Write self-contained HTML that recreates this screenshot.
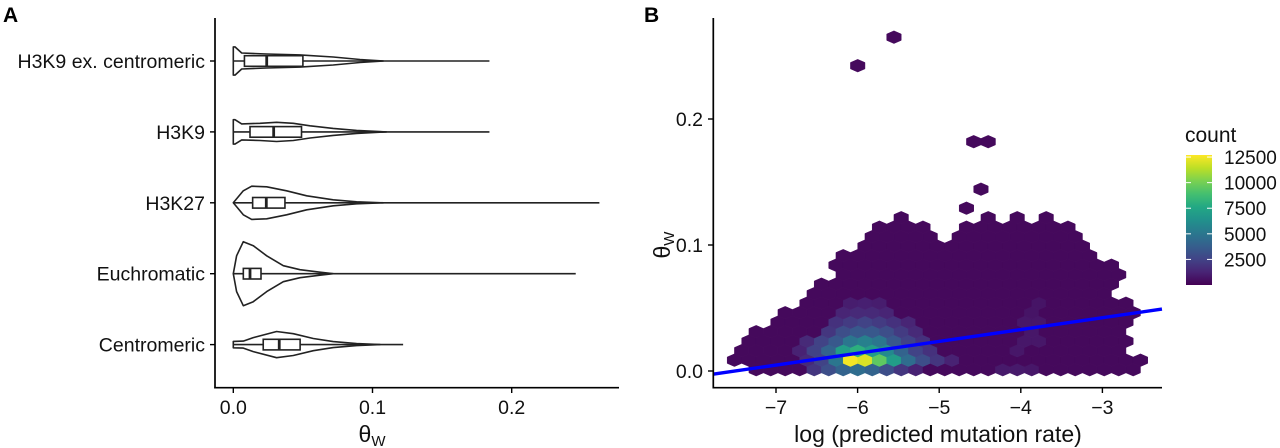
<!DOCTYPE html>
<html><head><meta charset="utf-8"><style>
html,body{margin:0;padding:0;background:#fff;}
svg{display:block;font-family:"Liberation Sans",Arial,sans-serif;}
</style></head><body>
<svg id="fig" width="1280" height="448" viewBox="0 0 1280 448" xmlns="http://www.w3.org/2000/svg">
<defs>
<linearGradient id="vir" x1="0" y1="1" x2="0" y2="0">
<stop offset="0" stop-color="#440154"/><stop offset="0.1" stop-color="#482475"/><stop offset="0.2" stop-color="#414487"/><stop offset="0.3" stop-color="#355f8d"/><stop offset="0.4" stop-color="#2a788e"/><stop offset="0.5" stop-color="#21918c"/><stop offset="0.6" stop-color="#22a884"/><stop offset="0.7" stop-color="#44bf70"/><stop offset="0.8" stop-color="#7ad151"/><stop offset="0.9" stop-color="#bddf26"/><stop offset="1" stop-color="#fde725"/>
</linearGradient>
</defs>
<g id="panelA"></g>
<g id="panelB"></g>
</svg>
<script>
// ---------- Panel A data ----------
const categories = ["H3K9 ex. centromeric","H3K9","H3K27","Euchromatic","Centromeric"];
const violinTheta = [
 [0,0.0012,0.006,0.024,0.0479,0.0718,0.091,0.1078],
 [0,0.0012,0.006,0.0192,0.0311,0.0431,0.0551,0.0718,0.0886,0.11],
 [0,0.0072,0.0132,0.024,0.0383,0.0527,0.0718,0.0886,0.1078],
 [0,0.0024,0.0072,0.0144,0.024,0.0359,0.0479,0.0623,0.0718],
 [0,0.0072,0.0144,0.0311,0.0431,0.0575,0.0718,0.0886,0.1054]
];
const violinDensity = [
 [0.44,0.44,0.25,0.22,0.19,0.125,0.047,0],
 [0.38,0.38,0.25,0.27,0.30,0.27,0.19,0.11,0.047,0],
 [0,0.375,0.52,0.50,0.375,0.22,0.094,0.03,0],
 [0,0.56,1.0,0.875,0.56,0.25,0.125,0.047,0],
 [0.10,0.11,0.22,0.41,0.34,0.19,0.094,0.03,0]
];
const boxQ1 = [0.008,0.012,0.0139,0.0072,0.0215];
const boxMedian = [0.024,0.029,0.0237,0.012,0.033];
const boxQ3 = [0.050,0.049,0.0371,0.0199,0.048];
const maxTheta = [0.184,0.184,0.263,0.246,0.122];
const aTicks = [0.0,0.1,0.2];
const aTickLabels = ["0.0","0.1","0.2"];

// ---------- Panel B data ----------
const hexXOrigin = -7.4203, hexXHalfStep = 0.08885; // bin grid (data units)
const hexYOrigin = 0.00103, hexYStep = 0.00754;
// [row, firstHalfColumn, lastHalfColumn]
const hexRows = [
 [0,2,54],[1,-1,55],[2,0,52],[3,1,53],[4,2,52],[5,5,53],[6,6,54],[7,9,53],[8,10,50],[9,11,51],
 [10,14,52],[11,13,51],[12,14,48],[13,17,47],[14,18,26],[14,30,46],[15,19,25],[15,31,45],
 [16,22,22],[16,34,34],[16,38,38],[16,42,42],[17,31,31],[19,33,33],[24,32,32],[24,34,34],[32,16,16],[35,21,21]
];
const defaultCount = 300;
// [row, halfColumn, count]
const hexCounts = [
 [0,10,2000],[0,12,3000],[0,14,4000],[0,16,4500],[0,18,4000],[0,20,3000],[0,22,2000],[0,24,1200],[0,36,900],[0,38,900],[0,40,800],
 [1,9,1500],[1,11,2500],[1,13,5000],[1,15,12500],[1,17,12000],[1,19,9500],[1,21,7000],[1,23,4500],[1,25,3000],[1,27,2000],[1,29,1200],
 [2,8,1200],[2,10,2500],[2,12,4000],[2,14,7000],[2,16,8000],[2,18,7000],[2,20,6000],[2,22,4000],[2,24,2500],[2,26,1800],[2,38,800],
 [3,9,1500],[3,11,2500],[3,13,3500],[3,15,5000],[3,17,5500],[3,19,5000],[3,21,3500],[3,23,2500],[3,25,1800],[3,39,800],[3,41,800],
 [4,12,2000],[4,14,3000],[4,16,3500],[4,18,3500],[4,20,3000],[4,22,2200],[4,24,1500],[4,40,800],
 [5,13,1800],[5,15,2200],[5,17,2500],[5,19,2200],[5,21,1800],[5,23,1300],[5,39,800],[5,41,800],
 [6,14,1300],[6,16,1500],[6,18,1500],[6,20,1300],[6,40,700],
 [7,15,1000],[7,17,1100],[7,19,1000],[7,41,700]
];
const countMax = 12700;
const legendTicks = [2500,5000,7500,10000,12500];
const bXTicks = [-7,-6,-5,-4,-3];
const bXTickLabels = ["\u22127","\u22126","\u22125","\u22124","\u22123"];
const bYTicks = [0,0.1,0.2];
const bYTickLabels = ["0.0","0.1","0.2"];
const fitSlope = 0.0094, fitIntercept = 0.0705;
const fitRange = [-7.772,-2.27];

const NS="http://www.w3.org/2000/svg";
function mk(tag, attrs, parent){const e=document.createElementNS(NS,tag);for(const k in attrs)e.setAttribute(k,attrs[k]);parent.appendChild(e);return e;}
const LC='#222', LW=1.6, TFS=19.5;

// ---------- Panel A ----------
const A=document.getElementById('panelA');
const xA=v=>233.3+v*1392;
const yA=i=>61+i*70.9;
const maxHalf=32;
let t=mk('text',{x:3,y:22,'font-size':21,'font-weight':'bold',fill:'#000'},A);t.textContent='A';


categories.forEach((c,i)=>{
  const g=mk('g',{},A);
  
  
  const cy=yA(i);
  let top=[],bot=[];
  violinTheta[i].forEach((th,k)=>{const h=violinDensity[i][k]*maxHalf;top.push([xA(th),cy-h]);bot.unshift([xA(th),cy+h]);});
  const pts=top.concat(bot).map(p=>p[0].toFixed(1)+','+p[1].toFixed(1)).join(' ');
  mk('polygon',{points:pts,fill:'#fff',stroke:LC,'stroke-width':LW,'stroke-linejoin':'round'},g);
  mk('line',{x1:xA(0),x2:xA(maxTheta[i]),y1:cy,y2:cy,stroke:LC,'stroke-width':LW},g);
  const b=mk('rect',{x:xA(boxQ1[i]),y:cy-5.3,width:xA(boxQ3[i])-xA(boxQ1[i]),height:10.6,fill:'#fff',stroke:LC,'stroke-width':LW},g);
  
  
  mk('line',{x1:xA(boxMedian[i]),x2:xA(boxMedian[i]),y1:cy-5.3,y2:cy+5.3,stroke:LC,'stroke-width':2.8},g);
  mk('line',{x1:210,x2:215,y1:cy,y2:cy,stroke:'#000','stroke-width':1.4},A);
  const l=mk('text',{x:205,y:cy+7,'font-size':TFS,'text-anchor':'end',fill:'#111'},A);l.textContent=c;
  
  
});
let ax=mk('line',{x1:215,x2:215,y1:18,y2:388.5,stroke:'#000','stroke-width':1.7},A);


ax=mk('line',{x1:214.3,x2:619,y1:387.7,y2:387.7,stroke:'#000','stroke-width':1.7},A);


aTicks.forEach((v,k)=>{
  mk('line',{x1:xA(v),x2:xA(v),y1:388,y2:393,stroke:'#000','stroke-width':1.4},A);
  const l=mk('text',{x:xA(v),y:414,'font-size':TFS,'text-anchor':'middle',fill:'#111'},A);l.textContent=aTickLabels[k];
  
  
});
t=mk('text',{x:372,y:442,'font-size':23,'text-anchor':'middle',fill:'#111'},A);
t.innerHTML='θ<tspan font-size="15" dy="4">W</tspan>';



// ---------- Panel B ----------
const B=document.getElementById('panelB');
const xB=v=>776+(v+7)*81.6;
const yB=v=>371-v*1260;
const stops=['#440154','#482475','#414487','#355f8d','#2a788e','#21918c','#22a884','#44bf70','#7ad151','#bddf26','#fde725'];
function hex2rgb(h){return [1,3,5].map(i=>parseInt(h.substr(i,2),16));}
function viridis(tt){tt=Math.max(0,Math.min(1,tt));const p=tt*10,i=Math.min(9,Math.floor(p)),f=p-i;const a=hex2rgb(stops[i]),b=hex2rgb(stops[i+1]);return 'rgb('+a.map((v,k)=>Math.round(v+(b[k]-v)*f)).join(',')+')';}
t=mk('text',{x:644,y:22,'font-size':21,'font-weight':'bold',fill:'#000'},B);t.textContent='B';


const countMap={};hexCounts.forEach(c=>{countMap[c[0]+'_'+c[1]]=c[2];});
const hexG=mk('g',{},B);


const hw=7.25,hr=6.35;
hexRows.forEach(seg=>{
  const r=seg[0];
  for(let h=seg[1];h<=seg[2];h+=2){
    const cnt=countMap[r+'_'+h]!==undefined?countMap[r+'_'+h]:defaultCount;
    const cx=xB(hexXOrigin+h*hexXHalfStep), cy=yB(hexYOrigin+r*hexYStep);
    const col=viridis(cnt/countMax);
    const pts=[[0,-hr],[hw,-hr/2],[hw,hr/2],[0,hr],[-hw,hr/2],[-hw,-hr/2]].map(p=>(cx+p[0]).toFixed(2)+','+(cy+p[1]).toFixed(2)).join(' ');
    const e=mk('polygon',{points:pts,fill:col,stroke:col,'stroke-width':0.5},hexG);
    
    
  }
});
const fit=mk('line',{x1:xB(fitRange[0]),y1:yB(fitIntercept+fitSlope*fitRange[0]),x2:xB(fitRange[1]),y2:yB(fitIntercept+fitSlope*fitRange[1]),stroke:'#0000ff','stroke-width':3.4},B);


ax=mk('line',{x1:713.3,x2:713.3,y1:18,y2:388.5,stroke:'#000','stroke-width':1.7},B);


ax=mk('line',{x1:712.5,x2:1162,y1:387.7,y2:387.7,stroke:'#000','stroke-width':1.7},B);


bXTicks.forEach((v,k)=>{
  mk('line',{x1:xB(v),x2:xB(v),y1:388,y2:393,stroke:'#000','stroke-width':1.4},B);
  const l=mk('text',{x:xB(v),y:414,'font-size':TFS,'text-anchor':'middle',fill:'#111'},B);l.textContent=bXTickLabels[k];
  
  
});
bYTicks.forEach((v,k)=>{
  mk('line',{x1:708,x2:713,y1:yB(v),y2:yB(v),stroke:'#000','stroke-width':1.4},B);
  const l=mk('text',{x:703,y:yB(v)+7,'font-size':TFS,'text-anchor':'end',fill:'#111'},B);l.textContent=bYTickLabels[k];
  
  
});
t=mk('text',{x:938,y:442,'font-size':23,'text-anchor':'middle',fill:'#111'},B);t.textContent='log (predicted mutation rate)';


t=mk('text',{x:0,y:0,'font-size':23,'text-anchor':'middle',fill:'#111',transform:'translate(670,245) rotate(-90)'},B);
t.innerHTML='θ<tspan font-size="15" dy="4">W</tspan>';


// legend
const lg=mk('g',{},B);


t=mk('text',{x:1185,y:142,'font-size':21,fill:'#111'},lg);t.textContent='count';


const legY=v=>285-v/countMax*130;
const bar=mk('rect',{x:1186,y:legY(countMax),width:26,height:130,fill:'url(#vir)'},lg);


legendTicks.forEach(v=>{
  mk('line',{x1:1186,x2:1191,y1:legY(v),y2:legY(v),stroke:'#fff','stroke-width':1},lg);
  mk('line',{x1:1207,x2:1212,y1:legY(v),y2:legY(v),stroke:'#fff','stroke-width':1},lg);
  const l=mk('text',{x:1224,y:legY(v)+7,'font-size':19,fill:'#111'},lg);l.textContent=String(v);
  
  
});
</script>
</body></html>
